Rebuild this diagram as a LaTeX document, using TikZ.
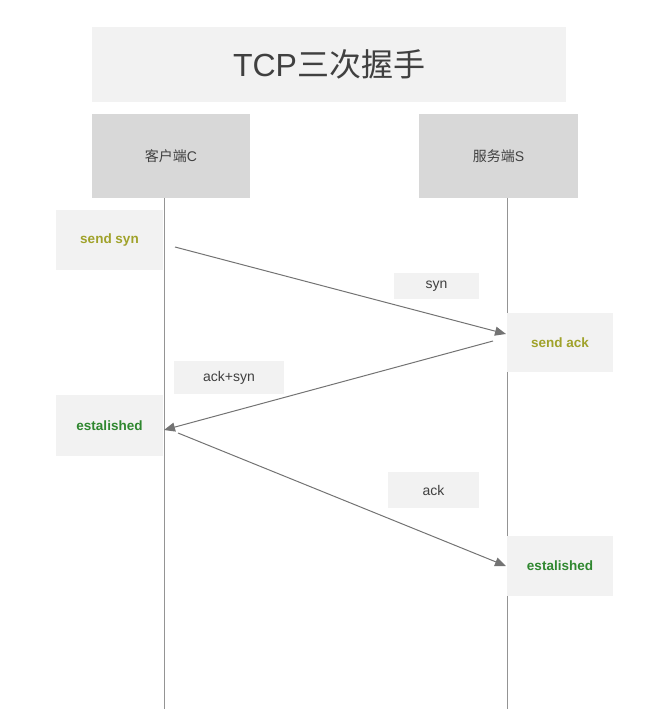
\documentclass[tikz,border=0pt]{standalone}
\usepackage{fontspec}
\setmainfont{Liberation Sans}
\newfontfamily\cjk{Noto Sans CJK SC}
\usetikzlibrary{arrows.meta}
\definecolor{paleGray}{HTML}{F2F2F2}
\definecolor{headGray}{HTML}{D8D8D8}
\definecolor{inkGray}{HTML}{404040}
\definecolor{olive}{HTML}{A0A22A}
\definecolor{okGreen}{HTML}{2F872F}

\begin{document}
\begin{tikzpicture}[
  x=1pt, y=-1pt,
  every node/.style={rectangle, sharp corners, align=center, inner sep=0pt, text=inkGray},
  state/.style={fill=paleGray, minimum width=107pt, minimum height=60pt, font=\fontsize{13.5}{15}\selectfont\bfseries},
  msg/.style={fill=paleGray, font=\fontsize{14}{16}\selectfont},
  lifeline/.style={line width=1pt, black!42},
  arrow/.style={-{Triangle[length=11pt, width=9pt]}, line width=1pt, black!55}
]
\useasboundingbox (0,0) rectangle (652,709);

% Lifelines
\coordinate (cTop) at (164,198);
\coordinate (cEnd) at (164,709);
\coordinate (sTop) at (507,198);
\coordinate (sEnd) at (507,709);
\draw[lifeline] (cTop) -- (cEnd);
\draw[lifeline] (sTop) -- (sEnd);

% Title
\node[
  fill=paleGray,
  minimum width=474pt,
  minimum height=75pt,
  font=\fontsize{32}{36}\selectfont
] (title) at (329,64.5) {TCP{\cjk 三次握手}};

% Client and server heads
\node[
  fill=headGray,
  minimum width=158pt,
  minimum height=84pt,
  font=\fontsize{14}{16}\selectfont
] (client) at (171,156) {{\cjk 客户端}C};
\node[
  fill=headGray,
  minimum width=159pt,
  minimum height=84pt,
  font=\fontsize{14}{16}\selectfont
] (server) at (498.5,156) {{\cjk 服务端}S};

% States
\node[state, text=olive] (sendsyn) at (109.5,240) {send syn};
\node[state, text=olive, minimum width=106pt, minimum height=59pt] (sendack) at (560,342.5) {send ack};
\node[state, text=okGreen, minimum height=61pt] (estC) at (109.5,425.5) {estalished};
\node[state, text=okGreen, minimum width=106pt] (estS) at (560,566) {estalished};

% Message labels
\node[msg, minimum width=85pt, minimum height=26pt] (synlbl) at (436.5,286) {syn};
\node[msg, minimum width=110pt, minimum height=33pt] (acksynlbl) at (229,377.5) {ack+syn};
\node[msg, minimum width=91pt, minimum height=36pt] (acklbl) at (433.5,490) {ack};

% Arrow ends
\coordinate (a1) at (175,247);
\coordinate (b1) at (506,334);
\coordinate (a2) at (493,341);
\coordinate (b2) at (164,430);
\coordinate (a3) at (178,433);
\coordinate (b3) at (506,566);

% Arrows
\draw[arrow] (a1) -- (b1);
\draw[arrow] (a2) -- (b2);
\draw[arrow] (a3) -- (b3);

\end{tikzpicture}
\end{document}
